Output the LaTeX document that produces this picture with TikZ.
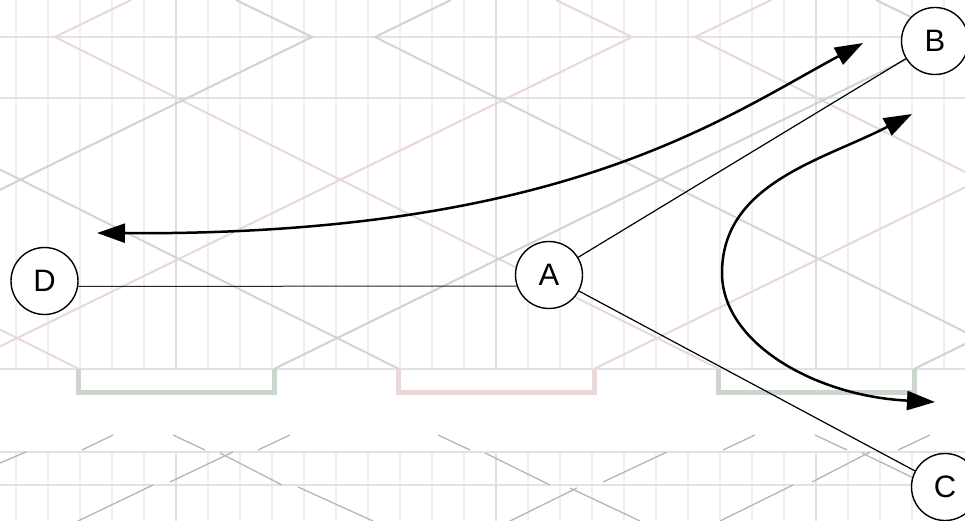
\documentclass[tikz,border=0pt]{standalone}
\usepackage{fontspec}
\setmainfont{Liberation Sans}
\usetikzlibrary{arrows.meta}
\definecolor{gridlight}{RGB}{239,239,239}
\definecolor{griddark}{RGB}{222,222,222}
\definecolor{gridh}{RGB}{226,226,226}
\definecolor{lred}{RGB}{234,215,215}
\definecolor{lgreen}{RGB}{204,214,204}
\definecolor{lgray}{RGB}{182,182,182}
\begin{document}
\begin{tikzpicture}[x=1pt,y=-1pt,
  vnode/.style={circle,draw=black,line width=1.4pt,fill=white,minimum size=67pt,inner sep=0pt,font=\fontsize{31}{31}\selectfont},
  thinedge/.style={draw=black,line width=1.2pt},
  hairedge/.style={draw=black!85,line width=1pt},
  bigarrow/.style={line width=2.5pt,{Triangle[length=28pt,width=19pt]}-{Triangle[length=28pt,width=19pt]}},
  gridv/.style={draw=gridlight,line width=2.4pt},
  gridd/.style={draw=griddark,line width=2.6pt},
  gridhl/.style={draw=gridh,line width=2pt},
  diagline/.style={line width=2pt},
  bracketline/.style={line width=5pt},
  lowline/.style={draw=lgray,line width=1.3pt}
]
\useasboundingbox (0,0) rectangle (965,521);
\fill[white] (0,0) rectangle (965,521);
\begin{scope}
\clip (0,0) rectangle (965,521);
% vertical grid
\foreach \i in {0,...,29}{
  \draw[gridv] ({16+32*\i},0) -- ({16+32*\i},369);
  \draw[gridv] ({16+32*\i},452) -- ({16+32*\i},521);
}
\foreach \x in {176,496,816}{
  \draw[gridd] (\x,0) -- (\x,369);
  \draw[gridd] (\x,452) -- (\x,521);
}
% horizontal grid
\foreach \y in {37,98,369,452,485}{
  \draw[gridhl] (0,\y) -- (965,\y);
}
% descending coloured lines
\foreach \k in {-3,...,3}{
  \ifodd\k \def\lc{lgreen}\else\def\lc{lred}\fi
  \draw[diagline,draw=\lc] ({55+320*\k+76},0) -- ({55+320*\k},37) -- ({55+320*\k+664},369);
}
% brackets and ascending coloured lines
\foreach \j in {-3,...,3}{
  \ifodd\j \def\lc{lred}\else\def\lc{lgreen}\fi
  \pgfmathsetmacro\L{78+320*\j}
  \pgfmathsetmacro\R{274+320*\j}
  \draw[bracketline,draw=\lc] (\L,369) -- (\L,392) -- (\R,392) -- (\R,369);
  \draw[diagline,draw=\lc] (\R,369) -- ({\R+678},37) -- ({\R+678-76},0);
}
% lower band broken lines
\draw[lowline] (0,463) -- (26,452);
\draw[lowline] (82,450) -- (113,435);
\draw[lowline] (173,435) -- (205,450);
\draw[lowline] (170,482) -- (233,452);
\draw[lowline] (78,521) -- (153,485);
\draw[lowline] (220,453) -- (282,485);
\draw[lowline] (298,487) -- (373,521);
\draw[lowline] (258,450) -- (290,435);
\draw[lowline] (438,435) -- (470,450);
\draw[lowline] (485,453) -- (550,485);
\draw[lowline] (570,488) -- (640,521);
\draw[lowline] (510,521) -- (577,488);
\draw[lowline] (603,482) -- (667,452);
\draw[lowline] (723,450) -- (755,435);
\draw[lowline] (720,521) -- (793,485);
\draw[lowline] (812,482) -- (870,452);
\draw[lowline] (898,450) -- (930,435);
\draw[lowline] (815,435) -- (847,450);
\draw[lowline] (862,453) -- (928,485);
\end{scope}
% nodes
\node[vnode] (A) at (549,275) {A};
\node[vnode] (B) at (935,41) {B};
\node[vnode] (C) at (945,487) {C};
\node[vnode] (D) at (44.5,281) {D};
% edges
\draw[hairedge] (D.-9) -- (A.-161);
\draw[thinedge] (A) -- (B);
\draw[thinedge] (A) -- (C);
% free arrows
\coordinate (p1) at (97,233);
\coordinate (p2) at (863,43);
\coordinate (q1) at (912,114);
\coordinate (qm) at (722,273);
\coordinate (q2) at (935,402);
\draw[bigarrow] (p1) .. controls (560,236) and (720,120) .. (p2);
\draw[bigarrow] (q1) .. controls (823.3,160.1) and (722,183) .. (qm) .. controls (722,343) and (815,396) .. (q2);
\end{tikzpicture}
\end{document}
